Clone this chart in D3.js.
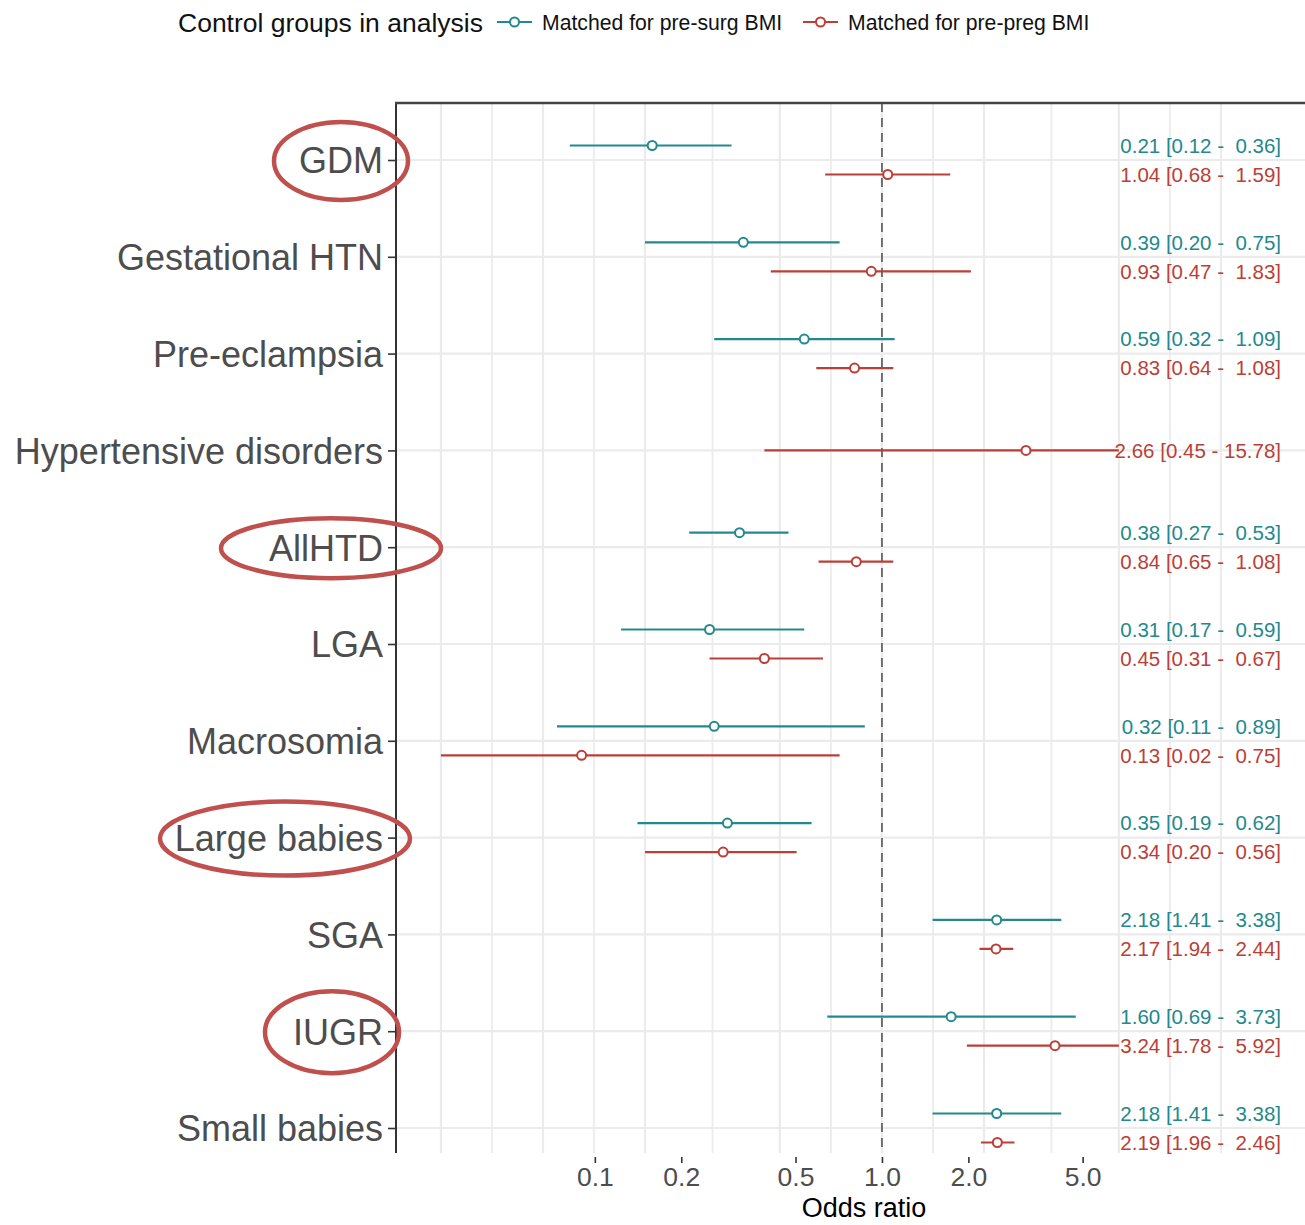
<!DOCTYPE html>
<html lang="en">
<head>
<meta charset="UTF-8">
<title>Odds ratios by control group</title>
<script src="https://d3js.org/d3.v7.min.js"></script>
<style>
  body { margin: 0; background: #fff; }
  text { font-family: "Liberation Sans", Arial, Helvetica, sans-serif; }
</style>
</head>
<body>
<div id="chart"></div>
<script>
// outcomes, top to bottom
const outcomes = ["GDM", "Gestational HTN", "Pre-eclampsia", "Hypertensive disorders", "AllHTD",
  "LGA", "Macrosomia", "Large babies", "SGA", "IUGR", "Small babies"];

const groups = ["Matched for pre-surg BMI", "Matched for pre-preg BMI"];

// controls matched for pre-surgery BMI (null = no estimate)
const surgOR   = [0.21, 0.39, 0.59, null, 0.38, 0.31, 0.32, 0.35, 2.18, 1.60, 2.18];
const surgLow  = [0.12, 0.20, 0.32, null, 0.27, 0.17, 0.11, 0.19, 1.41, 0.69, 1.41];
const surgHigh = [0.36, 0.75, 1.09, null, 0.53, 0.59, 0.89, 0.62, 3.38, 3.73, 3.38];

// controls matched for pre-pregnancy BMI
const pregOR   = [1.04, 0.93, 0.83, 2.66, 0.84, 0.45, 0.13, 0.34, 2.17, 3.24, 2.19];
const pregLow  = [0.68, 0.47, 0.64, 0.45, 0.65, 0.31, 0.02, 0.20, 1.94, 1.78, 1.96];
const pregHigh = [1.59, 1.83, 1.08, 15.78, 1.08, 0.67, 0.75, 0.56, 2.44, 5.92, 2.46];

// x axis breaks
const gridBreaks = [0.05, 0.1, 0.2, 0.5, 1, 2, 5, 10];
const tickLabels = [0.1, 0.2, 0.5, 1, 2, 5];

// outcomes circled in red on the figure
const circled = ["GDM", "AllHTD", "Large babies", "IUGR"];

const colors = ["#23898c", "#bb3f37"];

const width = 1305, height = 1225;
const panel = { left: 397, top: 103, right: 1305, bottom: 1153 };

const svg = d3.select("#chart").append("svg")
  .attr("width", width)
  .attr("height", height);

// build rows
const rows = [];
outcomes.forEach((o, i) => {
  if (surgOR[i] != null) rows.push({ outcome: o, group: 0, or: surgOR[i], lo: surgLow[i], hi: surgHigh[i] });
  if (pregOR[i] != null) rows.push({ outcome: o, group: 1, or: pregOR[i], lo: pregLow[i], hi: pregHigh[i] });
});
const perOutcome = d3.rollup(rows, v => v.length, d => d.outcome);

const x = d3.scaleLog()
  .domain([0.0371, 17.7])
  .range([panel.left, panel.right]);

// the printed tick labels sit on a tighter spacing than the data
const axisShrink = 0.847;
const tickScale = d3.scaleLog()
  .domain(x.domain())
  .range(x.range().map(r => x(1) + (r - x(1)) * axisShrink));

const y = d3.scalePoint()
  .domain(outcomes)
  .range([panel.top + 57, panel.bottom - 25]);

const dodge = 14.5;
const yPos = d => y(d.outcome) + (perOutcome.get(d.outcome) > 1 ? (d.group === 0 ? -dodge : dodge) : 0);

// grid
const minorBreaks = d3.pairs(gridBreaks, (a, b) => Math.sqrt(a * b));
const grid = svg.append("g");
grid.selectAll(".vminor")
  .data(minorBreaks)
  .join("line")
  .attr("x1", d => x(d)).attr("x2", d => x(d))
  .attr("y1", panel.top).attr("y2", panel.bottom)
  .attr("stroke", "#ececec").attr("stroke-width", 1.8);
grid.selectAll(".vmajor")
  .data(gridBreaks)
  .join("line")
  .attr("x1", d => x(d)).attr("x2", d => x(d))
  .attr("y1", panel.top).attr("y2", panel.bottom)
  .attr("stroke", "#ebebeb").attr("stroke-width", 2.2);
grid.selectAll(".hmajor")
  .data(outcomes)
  .join("line")
  .attr("x1", panel.left).attr("x2", panel.right)
  .attr("y1", d => y(d)).attr("y2", d => y(d))
  .attr("stroke", "#ebebeb").attr("stroke-width", 2.2);

// reference line at OR = 1
svg.append("line")
  .attr("x1", x(1)).attr("x2", x(1))
  .attr("y1", panel.top).attr("y2", panel.bottom)
  .attr("stroke", "#555").attr("stroke-width", 1.6)
  .attr("stroke-dasharray", "9,6");

// panel border (left and top)
svg.append("line")
  .attr("x1", panel.left - 1).attr("x2", panel.left - 1)
  .attr("y1", panel.top).attr("y2", panel.bottom)
  .attr("stroke", "#333").attr("stroke-width", 2);
svg.append("line")
  .attr("x1", panel.left - 2).attr("x2", panel.right)
  .attr("y1", panel.top).attr("y2", panel.top)
  .attr("stroke", "#444").attr("stroke-width", 2.5);

// confidence intervals, clipped to the plotted range
svg.selectAll(".ci")
  .data(rows)
  .join("line")
  .attr("x1", d => x(Math.max(d.lo, 0.05)))
  .attr("x2", d => x(Math.min(d.hi, 5)))
  .attr("y1", yPos).attr("y2", yPos)
  .attr("stroke", d => colors[d.group])
  .attr("stroke-width", 2.2);

svg.selectAll(".pt")
  .data(rows)
  .join("circle")
  .attr("cx", d => x(d.or))
  .attr("cy", yPos)
  .attr("r", 4.5)
  .attr("fill", "#fff")
  .attr("stroke", d => colors[d.group])
  .attr("stroke-width", 2);

// estimate labels
const f = d3.format(".2f");
svg.selectAll(".lab")
  .data(rows)
  .join("text")
  .attr("x", panel.right - 24)
  .attr("y", yPos)
  .attr("dy", "0.36em")
  .attr("text-anchor", "end")
  .style("white-space", "pre")
  .attr("font-size", 20.5)
  .attr("fill", d => colors[d.group])
  .text(d => `${f(d.or)} [${f(d.lo)} - ${f(d.hi).padStart(5, " ")}]`);

// y axis
const yAxis = svg.append("g")
  .attr("transform", `translate(${panel.left - 1},0)`)
  .call(d3.axisLeft(y).tickSize(8).tickPadding(5));
yAxis.select(".domain").remove();
yAxis.selectAll("line").attr("stroke", "#333").attr("stroke-width", 1.6);
yAxis.selectAll("text")
  .attr("font-size", 36)
  .attr("fill", "#4d4d4d")
  .attr("dy", "0.36em");

// x axis
const xAxis = svg.append("g")
  .attr("transform", `translate(0,${panel.bottom + 4})`)
  .call(d3.axisBottom(tickScale).tickValues(tickLabels).tickFormat(d3.format(".1f")).tickSize(6).tickPadding(4));
xAxis.select(".domain").remove();
xAxis.selectAll("line").attr("stroke", "#333").attr("stroke-width", 1.6);
xAxis.selectAll("text")
  .attr("font-size", 26.5)
  .attr("fill", "#4d4d4d");

svg.append("text")
  .attr("x", (panel.left + panel.right) / 2 + 13)
  .attr("y", 1217)
  .attr("text-anchor", "middle")
  .attr("font-size", 27)
  .attr("fill", "#000")
  .text("Odds ratio");

// red annotation ellipses
const ellipseShape = {
  "GDM": { cx: 341, rx: 67, ry: 39 },
  "AllHTD": { cx: 331, rx: 110, ry: 30 },
  "Large babies": { cx: 285, rx: 125, ry: 37 },
  "IUGR": { cx: 332, rx: 67, ry: 41 }
};
svg.selectAll(".ring")
  .data(circled)
  .join("ellipse")
  .attr("cx", d => ellipseShape[d].cx)
  .attr("cy", d => y(d) + 1)
  .attr("rx", d => ellipseShape[d].rx)
  .attr("ry", d => ellipseShape[d].ry)
  .attr("fill", "none")
  .attr("stroke", "#c0504d")
  .attr("stroke-width", 4.5);

// legend
const legend = svg.append("g").attr("transform", "translate(0,22)");
legend.append("text")
  .attr("x", 178).attr("dy", "0.36em")
  .attr("font-size", 26.5)
  .attr("fill", "#111")
  .text("Control groups in analysis");

const keyX = [497, 803];
const item = legend.selectAll(".item")
  .data(groups)
  .join("g")
  .attr("transform", (d, i) => `translate(${keyX[i]},0)`);
item.append("line")
  .attr("x1", 0).attr("x2", 35)
  .attr("stroke", (d, i) => colors[i]).attr("stroke-width", 2);
item.append("circle")
  .attr("cx", 17.5).attr("r", 4.5)
  .attr("fill", "#fff")
  .attr("stroke", (d, i) => colors[i]).attr("stroke-width", 2);
item.append("text")
  .attr("x", 45).attr("dy", "0.36em")
  .attr("font-size", 21.2)
  .attr("fill", "#111")
  .text(d => d);
</script>
</body>
</html>
